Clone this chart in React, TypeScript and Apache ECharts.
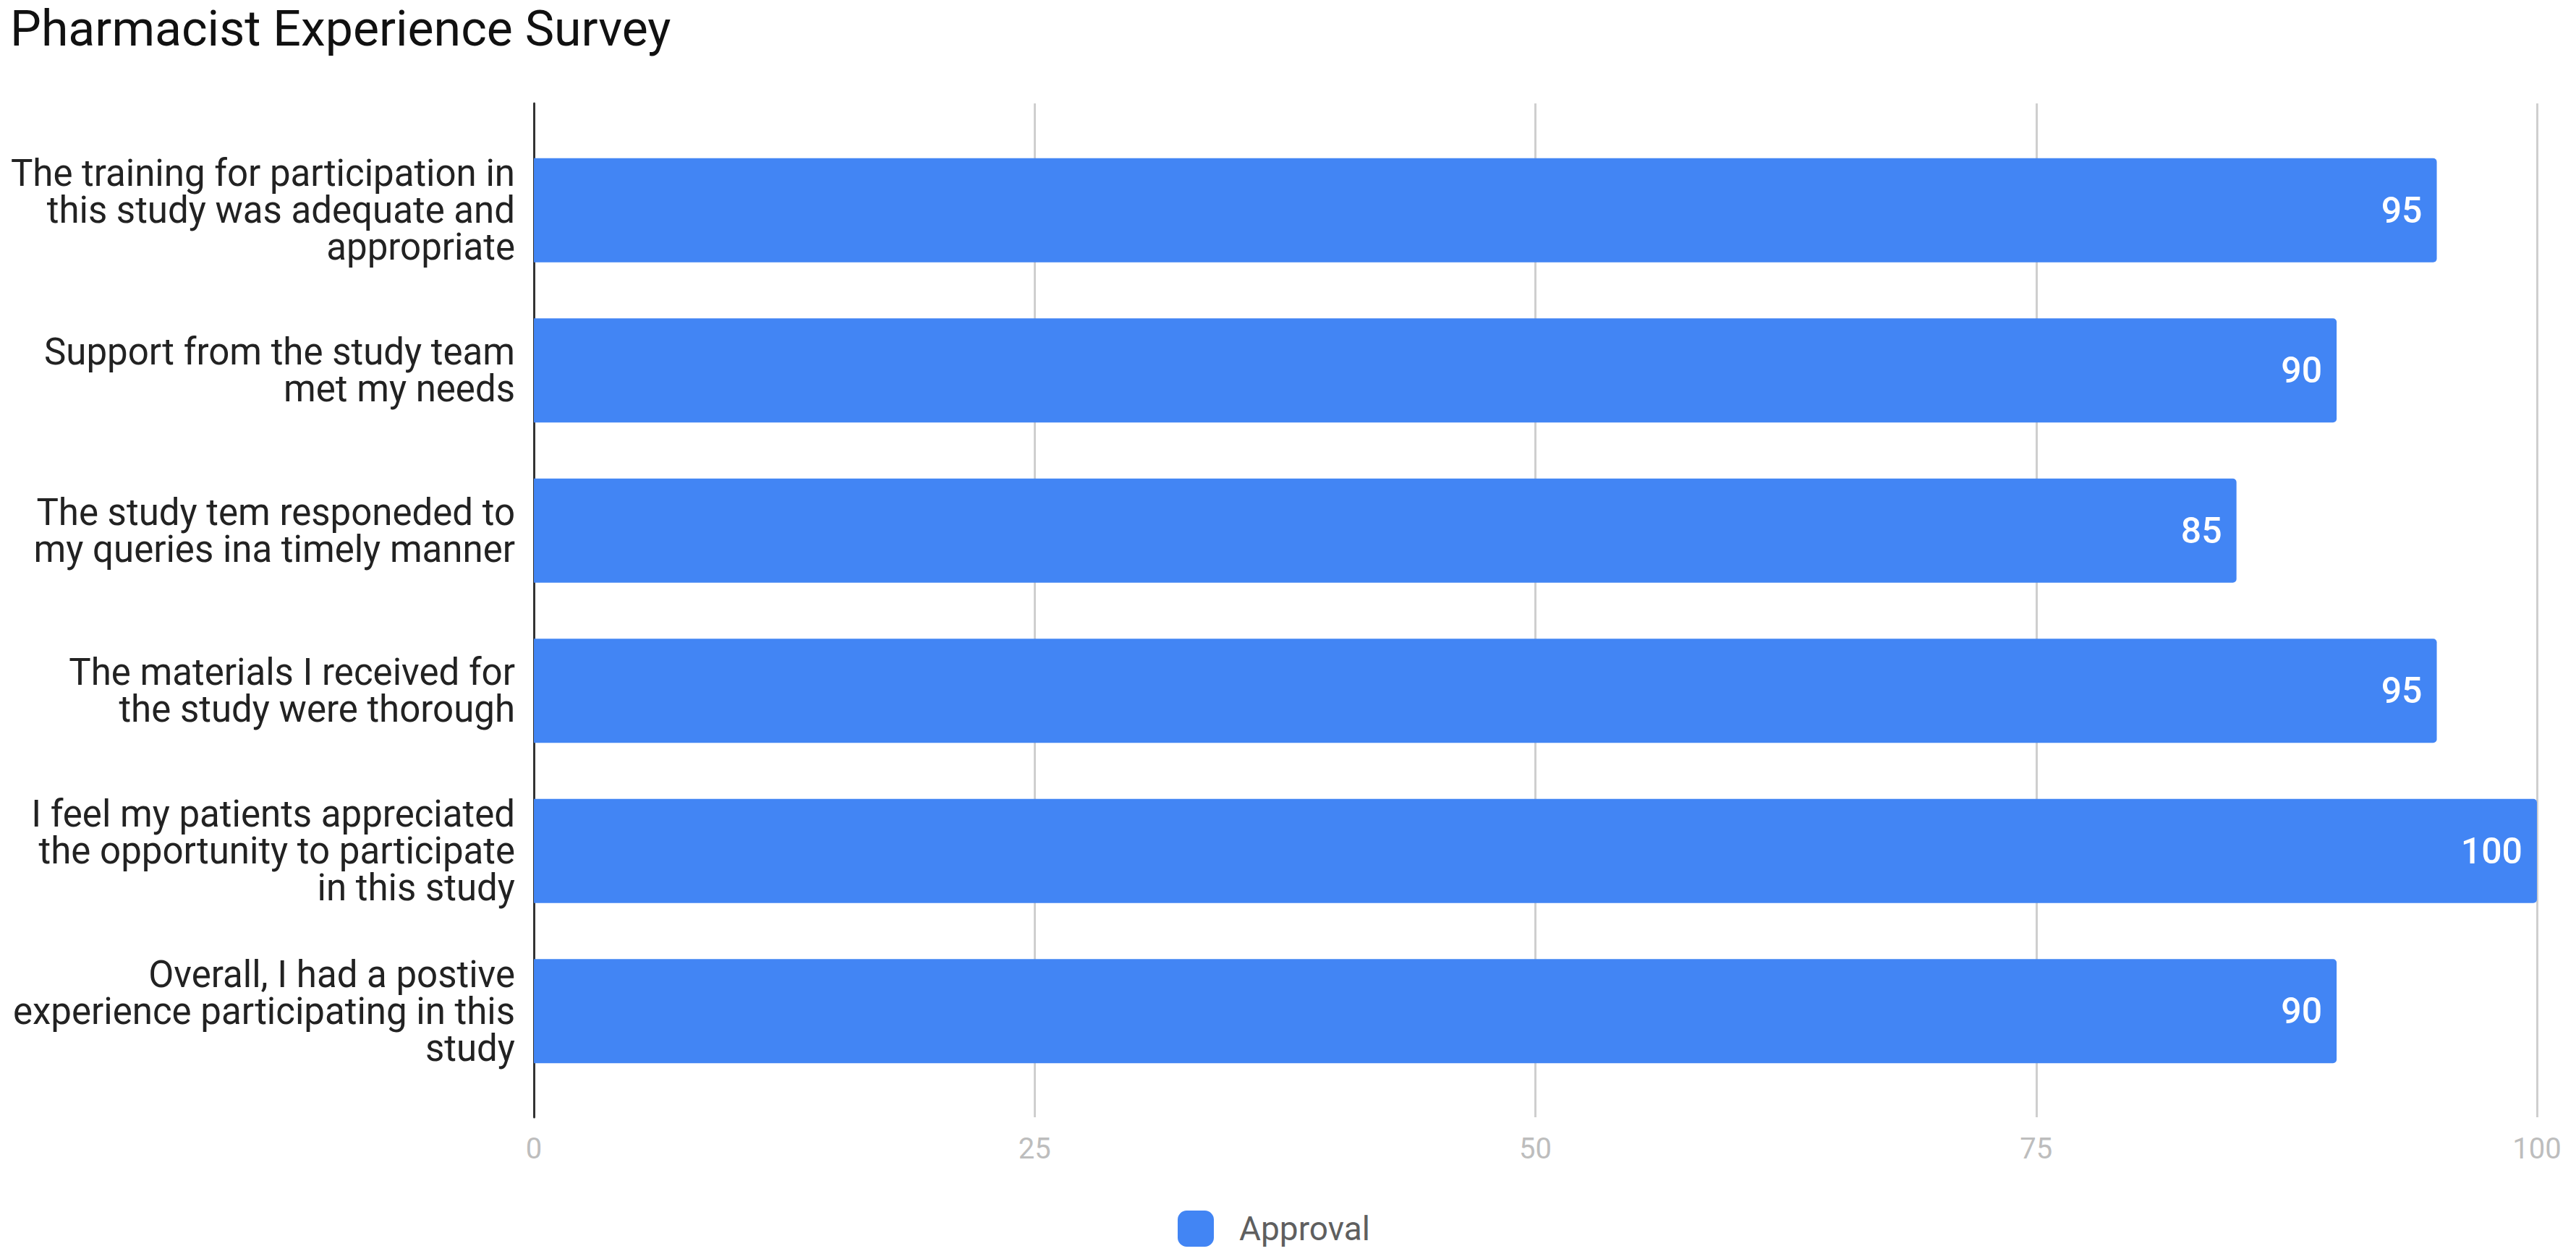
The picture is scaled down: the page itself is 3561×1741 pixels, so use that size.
import React, { useEffect, useRef } from "react";
import * as echarts from "echarts";

const title = "Pharmacist Experience Survey";
const seriesName = "Approval";
const categories = [
  "The training for participation in\nthis study was adequate and\nappropriate",
  "Support from the study team\nmet my needs",
  "The study tem responeded to\nmy queries ina timely manner",
  "The materials I received for\nthe study were thorough",
  "I feel my patients appreciated\nthe opportunity to participate\nin this study",
  "Overall, I had a postive\nexperience participating in this\nstudy",
];
const values = [95, 90, 85, 95, 100, 90];
const xTicks = [0, 25, 50, 75, 100];

const FONT = "Roboto, 'Noto Sans', sans-serif";

export default function App() {
  const ref = useRef<HTMLDivElement>(null);
  useEffect(() => {
    if (!ref.current) return;
    const chart = echarts.init(ref.current, undefined, { renderer: "svg" });
    const plotLeft = 738;
    const plotRight = 3561 - 3507;
    chart.setOption({
      animation: false,
      backgroundColor: "#ffffff",
      textStyle: { fontFamily: FONT },
      title: {
        text: title,
        left: 14,
        top: 6,
        padding: 0,
        textStyle: { fontFamily: FONT, fontSize: 68, fontWeight: "normal", color: "#111111", lineHeight: 68 },
      },
      legend: {
        data: [seriesName],
        left: 1628,
        top: 1674,
        padding: 0,
        itemWidth: 50,
        itemHeight: 50,
        icon: "roundRect",
        textStyle: { fontFamily: FONT, fontSize: 46, color: "#5f5f5f", padding: [0, 0, 0, 30] },
      },
      grid: [
        { left: plotLeft, right: plotRight, top: 180, height: 1329, containLabel: false },
        { left: plotLeft, right: plotRight, top: 143, height: 1402, containLabel: false },
      ],
      xAxis: [
        { type: "value", gridIndex: 0, min: 0, max: 100, show: false },
        {
          type: "value",
          gridIndex: 1,
          min: xTicks[0],
          max: xTicks[xTicks.length - 1],
          interval: 25,
          axisLine: { show: false },
          axisTick: { show: false },
          splitLine: { show: true, showMinLine: false, lineStyle: { color: "#cfcfcf", width: 3 } },
          axisLabel: { fontFamily: FONT, fontSize: 40, color: "#bdbdbd", margin: 23 },
        },
      ],
      yAxis: [
        {
          type: "category",
          gridIndex: 0,
          inverse: true,
          data: categories,
          axisLine: { show: false },
          axisTick: { show: false },
          splitLine: { show: false },
          axisLabel: {
            fontFamily: FONT,
            fontSize: 51,
            lineHeight: 51,
            color: "#222222",
            margin: 26,
            align: "right",
          },
        },
        {
          type: "value",
          gridIndex: 1,
          min: 0,
          max: 1,
          axisLine: { show: true, lineStyle: { color: "#333333", width: 3 } },
          axisTick: { show: false },
          axisLabel: { show: false },
          splitLine: { show: false },
        },
      ],
      series: [
        {
          name: seriesName,
          type: "bar",
          xAxisIndex: 0,
          yAxisIndex: 0,
          data: values,
          barWidth: 144,
          itemStyle: { color: "#4285f4", borderRadius: [0, 5, 5, 0] },
          label: {
            show: true,
            position: "insideRight",
            distance: 20,
            color: "#ffffff",
            fontFamily: FONT,
            fontSize: 50,
            fontWeight: 500,
          },
          z: 3,
        },
      ],
    });
    return () => chart.dispose();
  }, []);
  return (
    <div
      ref={ref}
      style={{ position: "fixed", left: 0, top: 0, width: 3561, height: 1741 }}
    />
  );
}
